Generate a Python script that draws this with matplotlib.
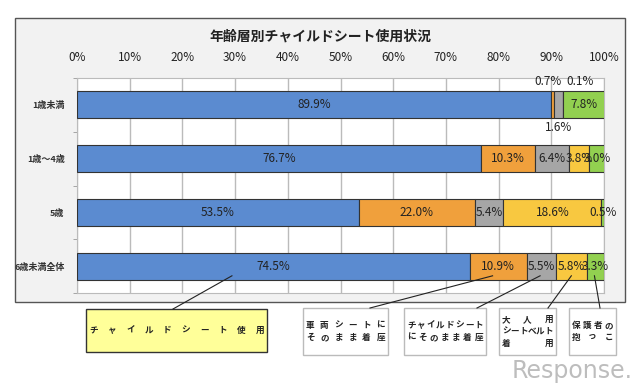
import matplotlib
matplotlib.use('Agg')
import matplotlib.pyplot as plt
from matplotlib.patches import Rectangle
from matplotlib.lines import Line2D
import numpy as np

plt.rcParams['font.family'] = ['Noto Sans CJK JP', 'DejaVu Sans']

# Data
categories = ['1歳未満', '1歳～4歳', '5歳', '6歳未満全体']
child_seat = [89.9, 76.7, 53.5, 74.5]
car_seat = [0.7, 10.3, 22.0, 10.9]
cs_plain = [1.6, 6.4, 5.4, 5.5]
adult_belt = [0.1, 3.8, 18.6, 5.8]
held = [7.8, 3.0, 0.5, 3.3]
series = [child_seat, car_seat, cs_plain, adult_belt, held]
colors = ['#5b8bd0', '#f0a03c', '#a6a6a6', '#f8c840', '#92d050']
xticks = np.arange(0, 101, 10)
box_lines = [
    ['チャイルドシート使用'],
    ['車両シートに', 'そのまま着座'],
    ['チャイルドシート', 'にそのまま着座'],
    ['大人用', 'シートベルト', '着用'],
    ['保護者の', '抱っこ'],
]

W, H = 640, 389
fig = plt.figure(figsize=(W / 100, H / 100), dpi=100)


def fx(x):
    return x / W


def fy(y):
    return 1 - y / H


# outer chart frame
fig.patches.append(Rectangle((fx(15), fy(302)), fx(610), 284 / H, transform=fig.transFigure,
                             facecolor='#f2f2f2', edgecolor='#555555', lw=1.0, zorder=-5))
fig.text(fx(320), fy(37), '年齢層別チャイルドシート使用状況', ha='center', va='center',
         fontsize=10, fontweight='bold', color='#222222')

ax = fig.add_axes([fx(77), fy(293), 527 / W, 215 / H])
ax.set_facecolor('white')
ypos = np.arange(len(categories))
left = np.zeros(len(categories))
for vals, c in zip(series, colors):
    vals = np.array(vals)
    ax.barh(ypos, vals, left=left, height=0.5, color=c, edgecolor='#333333', lw=0.8, zorder=3)
    left = left + vals

ax.set_xlim(0, 100)
ax.set_ylim(3.5, -0.5)
ax.set_xticks(xticks)
ax.set_xticklabels([f'{t}%' for t in xticks], fontsize=8.5, color='#222222')
ax.xaxis.tick_top()
ax.tick_params(axis='x', length=0, pad=10)
ax.set_yticks(ypos)
ax.set_yticklabels(categories, fontsize=6.5, fontweight='bold', color='#333333')
ax.set_yticks(np.arange(-0.5, 3.6, 1), minor=True)
ax.tick_params(axis='y', which='major', length=0, pad=9)
ax.tick_params(axis='y', which='minor', length=3, color='#999999')
ax.grid(axis='x', color='#bbbbbb', lw=1, zorder=0)
for s in ax.spines.values():
    s.set_color('#bbbbbb')

# data labels
left = np.zeros(len(categories))
for si, vals in enumerate(series):
    for ci, v in enumerate(vals):
        cx = left[ci] + v / 2
        cy = ypos[ci]
        if ci == 0 and si == 1:
            cx, cy = cx - 0.8, cy - 0.43
        elif ci == 0 and si == 2:
            cy = cy + 0.43
        elif ci == 0 and si == 3:
            cx, cy = cx + 3.3, cy - 0.43
        ax.text(cx, cy, f'{v:.1f}%', ha='center', va='center', fontsize=8.5,
                color='#222222', zorder=5)
    left = left + np.array(vals)

# legend boxes below the chart: x, y, w, h, face, edge, leader x, series, fraction
boxes = [
    (86, 309, 181, 43, '#ffff99', '#333333', 173, 0, None),
    (303, 308, 85, 47, 'white', '#bbbbbb', 370, 1, 0.4),
    (404, 308, 82, 47, 'white', '#bbbbbb', 477, 2, 0.45),
    (499, 308, 57, 47, 'white', '#bbbbbb', 548, 3, 0.5),
    (569, 308, 47, 47, 'white', '#bbbbbb', 600, 4, 0.45),
]
fs = 6.2
cw = fs * 100 / 72
total = np.cumsum([s[3] for s in series])
starts = np.concatenate([[0], total[:-1]])
for (bx, by, bw, bh, fc, ec, lx, si, frac), lines in zip(boxes, box_lines):
    fig.patches.append(Rectangle((fx(bx), fy(by + bh)), bw / W, bh / H, transform=fig.transFigure,
                                 facecolor=fc, edgecolor=ec, lw=1.0))
    n = len(lines)
    step = 12
    y0 = by + bh / 2 - step * (n - 1) / 2
    for li, line in enumerate(lines):
        xs = np.linspace(bx + 3 + cw / 2, bx + bw - 3 - cw / 2, len(line))
        for ch, x in zip(line, xs):
            fig.text(fx(x), fy(y0 + li * step), ch, ha='center', va='center', fontsize=fs,
                     fontweight='bold', color='#222222')
    if frac is None:
        ax_x = 29.4
    else:
        ax_x = starts[si] + series[si][3] * frac
    disp = ax.transData.transform((ax_x, 3.18))
    end = fig.transFigure.inverted().transform(disp)
    fig.lines.append(Line2D([fx(lx), end[0]], [fy(by), end[1]], transform=fig.transFigure,
                            color='#222222', lw=0.8))

fig.text(fx(572), fy(371), 'Response.', ha='center', va='center', fontsize=17,
         color='#bdbdbd', family='DejaVu Sans')

fig.savefig('out.png', dpi=100)
